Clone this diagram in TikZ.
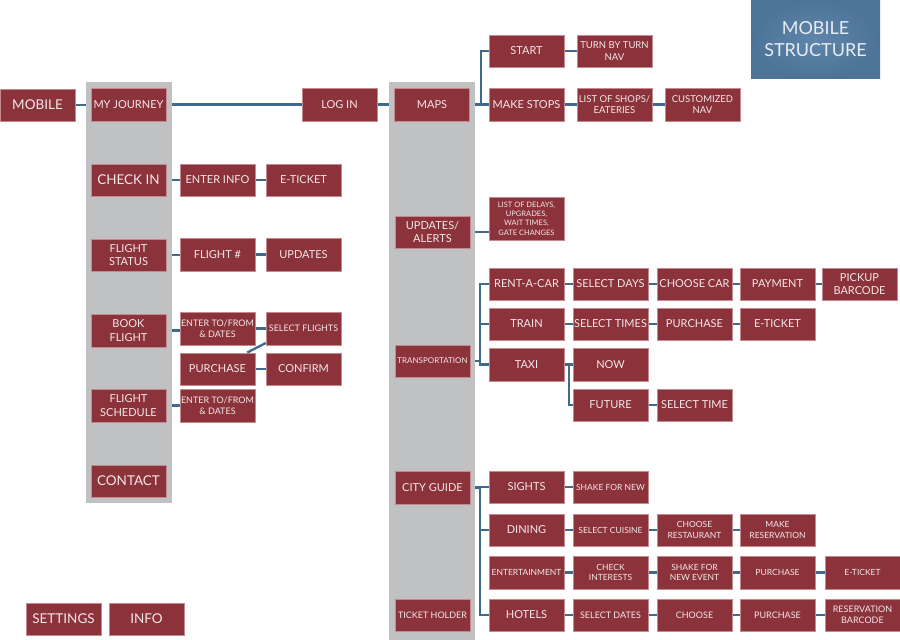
\documentclass[tikz,border=0pt]{standalone}
\usepackage{fontspec}
\setmainfont{Lato}
\usetikzlibrary{calc}
\definecolor{boxred}{HTML}{8B323A}
\definecolor{boxedge}{HTML}{C48A90}
\definecolor{boxtext}{HTML}{F4E8E9}
\definecolor{linecol}{HTML}{3F6A8E}
\definecolor{colgray}{HTML}{C0C1C3}
\definecolor{titledark}{HTML}{4E7398}
\definecolor{titlelight}{HTML}{5F85AA}
\definecolor{titletext}{HTML}{E6ECF3}
\newcommand\fsA{\fontsize{13.5}{15}\selectfont}
\newcommand\fsB{\fontsize{11}{13.5}\selectfont}
\newcommand\fsC{\fontsize{9.5}{11.5}\selectfont}
\newcommand\fsD{\fontsize{9}{10.5}\selectfont}
\newcommand\fsE{\fontsize{7.5}{9.3}\selectfont}
\newcommand\fsF{\fontsize{8.5}{10.5}\selectfont}
\newcommand\fsG{\fontsize{8}{10}\selectfont}
\pgfdeclarelayer{paper}
\pgfdeclarelayer{lines}
\pgfdeclarelayer{cols}
\pgfsetlayers{paper,lines,cols,main}
\tikzset{
  box/.style={draw=boxedge, line width=0.5pt, fill=boxred, text=boxtext,
    minimum width=75pt, minimum height=32.5pt, inner sep=0pt, align=center, font=\fsB},
  big/.style={font=\fsA},
  sm/.style={font=\fsC},
  xs/.style={font=\fsD},
  xxs/.style={font=\fsF},
  tiny/.style={font=\fsE},
  narrow/.style={font=\fsG},
  conn/.style={draw=linecol, line width=2.3pt},
  colbg/.style={fill=colgray, draw=none}
}
\begin{document}
\begin{tikzpicture}[x=1pt,y=-1pt]
\useasboundingbox (0,0) rectangle (900,640);
\begin{pgfonlayer}{paper}
  \fill[white] (0,0) rectangle (900,640);
\end{pgfonlayer}

% title
\node[shade, inner color=titlelight, outer color=titledark, minimum width=129pt, minimum height=78pt,
  inner sep=0pt, text=titletext, align=center, font=\fontsize{18}{22}\selectfont] (title) at (815.5,39) {MOBILE\\STRUCTURE};

% left tree
\node[box,big] (mobile) at (37.5,105) {MOBILE};
\node[box] (myjourney) at (128.5,104.5) {MY JOURNEY};
\node[box] (login) at (339.5,104.5) {LOG IN};
\node[box] (maps) at (432,104.5) {MAPS};
\node[box,big] (checkin) at (128.5,180) {CHECK IN};
\node[box] (enterinfo) at (217.5,180) {ENTER INFO};
\node[box] (eticketL) at (303.5,180) {E-TICKET};
\node[box] (fstatus) at (128.5,255) {FLIGHT\\STATUS};
\node[box] (flightno) at (217.5,254.5) {FLIGHT \#};
\node[box] (updatesL) at (303.5,254.5) {UPDATES};
\node[box] (bookflight) at (128.5,330.5) {BOOK\\FLIGHT};
\node[box,xs] (entertofrom) at (217.5,328.5) {ENTER TO/FROM\\\& DATES};
\node[box,xs] (selflights) at (303.5,328.5) {SELECT FLIGHTS};
\node[box] (purchaseL) at (217.5,369) {PURCHASE};
\node[box] (confirm) at (303.5,369) {CONFIRM};
\node[box] (fschedule) at (128.5,405.5) {FLIGHT\\SCHEDULE};
\node[box,xs] (entertofromB) at (217.5,405.5) {ENTER TO/FROM\\\& DATES};
\node[box,big] (contact) at (128.5,481) {CONTACT};
\node[box,big] (settings) at (63.5,619) {SETTINGS};
\node[box,big] (info) at (146.5,619) {INFO};

% right tree
\node[box] (start) at (526.5,51) {START};
\node[box,sm] (turnbyturn) at (614.5,51) {TURN BY TURN\\NAV};
\node[box] (makestops) at (526.5,104.5) {MAKE STOPS};
\node[box,sm] (shops) at (614.5,104.5) {LIST OF SHOPS/\\EATERIES};
\node[box,sm] (customnav) at (702.5,104.5) {CUSTOMIZED\\NAV};
\node[box] (updates) at (432.5,232) {UPDATES/\\ALERTS};
\node[box,tiny,minimum height=43pt] (delays) at (526.5,218.5) {LIST OF DELAYS,\\UPGRADES,\\WAIT TIMES,\\GATE CHANGES};
\node[box,narrow] (transp) at (432.5,361) {TRANSPORTATION};
\node[box] (rentacar) at (526.5,284) {RENT-A-CAR};
\node[box] (seldays) at (610.5,284) {SELECT DAYS};
\node[box] (choosecar) at (694.5,284) {CHOOSE CAR};
\node[box] (payment) at (777.5,284) {PAYMENT};
\node[box] (pickup) at (859.5,284) {PICKUP\\BARCODE};
\node[box] (train) at (526.5,324) {TRAIN};
\node[box] (seltimes) at (610.5,324) {SELECT TIMES};
\node[box] (purchaseT) at (694.5,324) {PURCHASE};
\node[box] (eticketT) at (777.5,324) {E-TICKET};
\node[box] (taxi) at (526.5,364.5) {TAXI};
\node[box] (now) at (610.5,364.5) {NOW};
\node[box] (future) at (610.5,405) {FUTURE};
\node[box] (seltime) at (694.5,405) {SELECT TIME};
\node[box] (cityguide) at (432.5,487.5) {CITY GUIDE};
\node[box,xs] (ticketholder) at (432.5,615) {TICKET HOLDER};
\node[box] (sights) at (526.5,487) {SIGHTS};
\node[box,xxs] (shakenew) at (610.5,487) {SHAKE FOR NEW};
\node[box] (dining) at (526.5,530) {DINING};
\node[box,xxs] (selcuisine) at (610.5,530) {SELECT CUISINE};
\node[box,xxs] (chooserest) at (694.5,530) {CHOOSE\\RESTAURANT};
\node[box,xxs] (makeres) at (777.5,530) {MAKE\\RESERVATION};
\node[box,xxs] (entertain) at (526.5,572.5) {ENTERTAINMENT};
\node[box,xxs] (checkint) at (610.5,572.5) {CHECK\\INTERESTS};
\node[box,xxs] (shakeevent) at (694.5,572.5) {SHAKE FOR\\NEW EVENT};
\node[box,xxs] (purchaseE) at (777.5,572.5) {PURCHASE};
\node[box,xxs] (eticketE) at (862.5,572.5) {E-TICKET};
\node[box] (hotels) at (526.5,615) {HOTELS};
\node[box,xs] (seldates) at (610.5,615) {SELECT DATES};
\node[box,xs] (choose) at (694.5,615) {CHOOSE};
\node[box,xs] (purchaseH) at (777.5,615) {PURCHASE};
\node[box,xs] (resbarcode) at (862.5,615) {RESERVATION\\BARCODE};

\begin{pgfonlayer}{cols}
  \fill[colbg] (86,82) rectangle (172,503);
  \fill[colbg] (389,82) rectangle (475,640);
\end{pgfonlayer}

\begin{pgfonlayer}{lines}
  \draw[conn] (mobile.east) -- (mobile.east -| myjourney.west);
  \draw[conn] (myjourney.east) -- (myjourney.east -| login.west);
  \draw[conn] (login.east) -- (login.east -| maps.west);
  \draw[conn] (checkin.east) -- (checkin.east -| enterinfo.west);
  \draw[conn] (enterinfo.east) -- (enterinfo.east -| eticketL.west);
  \draw[conn] (fstatus.east) -- (fstatus.east -| flightno.west);
  \draw[conn] (flightno.east) -- (flightno.east -| updatesL.west);
  \draw[conn] (bookflight.east) -- (bookflight.east -| entertofrom.west);
  \draw[conn] (entertofrom.east) -- (entertofrom.east -| selflights.west);
  \draw[conn] (purchaseL.east) -- (purchaseL.east -| confirm.west);
  \draw[conn] ([xshift=-8pt]purchaseL.north east) -- ([yshift=2pt]selflights.south west);
  \draw[conn] (fschedule.east) -- (fschedule.east -| entertofromB.west);
  % maps
  \draw[conn] (maps.east) -- ++(11,0) |- (start.west);
  \draw[conn] (maps.east) -- ++(11,0) |- (makestops.west);
  \draw[conn] (start.east) -- (start.east -| turnbyturn.west);
  \draw[conn] (makestops.east) -- (makestops.east -| shops.west);
  \draw[conn] (shops.east) -- (shops.east -| customnav.west);
  \draw[conn] (updates.east) -- (updates.east -| delays.west);
  % transportation
  \draw[conn] (transp.east) -- ++(10,0) |- (rentacar.west);
  \draw[conn] (transp.east) -- ++(10,0) |- (train.west);
  \draw[conn] (transp.east) -- ++(10,0) |- (taxi.west);
  \draw[conn] (rentacar.east) -- (rentacar.east -| seldays.west);
  \draw[conn] (seldays.east) -- (seldays.east -| choosecar.west);
  \draw[conn] (choosecar.east) -- (choosecar.east -| payment.west);
  \draw[conn] (payment.east) -- (payment.east -| pickup.west);
  \draw[conn] (train.east) -- (train.east -| seltimes.west);
  \draw[conn] (seltimes.east) -- (seltimes.east -| purchaseT.west);
  \draw[conn] (purchaseT.east) -- (purchaseT.east -| eticketT.west);
  \draw[conn] (taxi.east) -- ++(5,0) |- (now.west);
  \draw[conn] (taxi.east) -- ++(5,0) |- (future.west);
  \draw[conn] (future.east) -- (future.east -| seltime.west);
  % city guide
  \draw[conn] (cityguide.east) -- ++(10,0) |- (sights.west);
  \draw[conn] (cityguide.east) -- ++(10,0) |- (dining.west);
  \draw[conn] (cityguide.east) -- ++(10,0) |- (hotels.west);
  \draw[conn] (sights.east) -- (sights.east -| shakenew.west);
  \draw[conn] (dining.east) -- (dining.east -| selcuisine.west);
  \draw[conn] (selcuisine.east) -- (selcuisine.east -| chooserest.west);
  \draw[conn] (chooserest.east) -- (chooserest.east -| makeres.west);
  \draw[conn] (entertain.east) -- (entertain.east -| checkint.west);
  \draw[conn] (checkint.east) -- (checkint.east -| shakeevent.west);
  \draw[conn] (shakeevent.east) -- (shakeevent.east -| purchaseE.west);
  \draw[conn] (purchaseE.east) -- (purchaseE.east -| eticketE.west);
  \draw[conn] (hotels.east) -- (hotels.east -| seldates.west);
  \draw[conn] (seldates.east) -- (seldates.east -| choose.west);
  \draw[conn] (choose.east) -- (choose.east -| purchaseH.west);
  \draw[conn] (purchaseH.east) -- (purchaseH.east -| resbarcode.west);
\end{pgfonlayer}
\end{tikzpicture}
\end{document}
